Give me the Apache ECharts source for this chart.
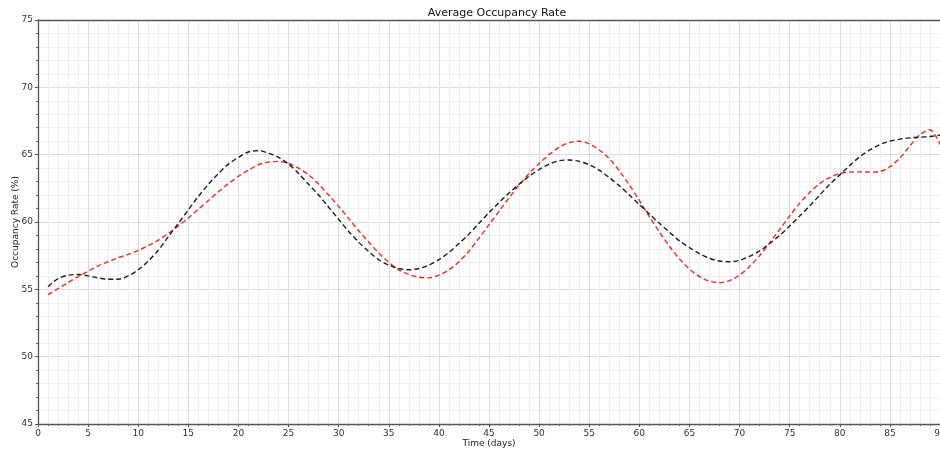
<!DOCTYPE html>
<html>
<head>
<meta charset="utf-8">
<title>Average Occupancy Rate</title>
<script src="https://cdn.jsdelivr.net/npm/echarts@6/dist/echarts.min.js"></script>
<style>
  html, body { margin: 0; padding: 0; background: #fff; }
  #chart { width: 940px; height: 450px; }
</style>
</head>
<body>
<div id="chart"></div>
<script>
// Day index for each sample
const days = [];
for (let d = 1; d <= 90; d++) days.push(d);

// Smoothed trend of occupancy (%)
const trendRate = [
  55.2, 55.8, 56.05, 56.1, 56.0, 55.85, 55.75, 55.75, 56.0, 56.45,
  57.1, 57.9, 58.9, 59.9, 60.9, 61.9, 62.8, 63.6, 64.3, 64.8,
  65.2, 65.3, 65.1, 64.8, 64.3, 63.6, 62.8, 62.0, 61.1, 60.2,
  59.3, 58.5, 57.8, 57.2, 56.8, 56.55, 56.45, 56.55, 56.8, 57.2,
  57.75, 58.4, 59.1, 59.9, 60.7, 61.45, 62.15, 62.8, 63.4, 63.9,
  64.3, 64.55, 64.6, 64.5, 64.25, 63.85, 63.3, 62.7, 62.0, 61.3,
  60.6, 59.9, 59.25, 58.6, 58.1, 57.65, 57.3, 57.1, 57.05, 57.15,
  57.45, 57.85, 58.4, 59.0, 59.7, 60.45, 61.2, 62.0, 62.8, 63.5,
  64.2, 64.85, 65.35, 65.75, 66.0, 66.15, 66.25, 66.3, 66.35, 66.45
];

// Observed occupancy (%)
const observedRate = [
  54.6, 55.05, 55.5, 55.95, 56.35, 56.75, 57.05, 57.35, 57.6, 57.9,
  58.25, 58.65, 59.15, 59.7, 60.3, 60.95, 61.6, 62.25, 62.85, 63.4,
  63.85, 64.25, 64.45, 64.5, 64.35, 64.0, 63.5, 62.8, 62.0, 61.15,
  60.25, 59.35, 58.5, 57.7, 57.0, 56.45, 56.1, 55.9, 55.85, 56.05,
  56.45, 57.05, 57.85, 58.8, 59.8, 60.8, 61.8, 62.75, 63.6, 64.35,
  65.0, 65.55, 65.9, 66.0, 65.8, 65.35, 64.7, 63.8, 62.75, 61.6,
  60.4, 59.25, 58.2, 57.25, 56.5, 55.95, 55.6, 55.5, 55.65, 56.05,
  56.7, 57.5, 58.45, 59.45, 60.45, 61.4, 62.2, 62.85, 63.3, 63.6,
  63.7, 63.72, 63.7, 63.75, 64.1, 64.75, 65.65, 66.5, 66.85, 65.75
];

const xTicks = { min: 0, max: 90, step: 5 };
const yTicks = { min: 45, max: 75, step: 5 };

const chart = echarts.init(document.getElementById('chart'), null, { renderer: 'canvas' });

const labelFont = { fontFamily: 'DejaVu Sans', fontSize: 9, color: '#333' };
const axisLine = { show: true, lineStyle: { color: '#555', width: 1.3 } };

chart.setOption({
  animation: false,
  backgroundColor: '#fff',
  title: {
    text: 'Average Occupancy Rate',
    left: 492, top: 3, textAlign: 'center',
    textStyle: { fontFamily: 'DejaVu Sans', fontSize: 11, fontWeight: 'normal', color: '#111' }
  },
  grid: { left: 38, right: 0, top: 20, bottom: 26, containLabel: false, outerBoundsMode: 'none' },
  xAxis: [{
    type: 'value', min: xTicks.min, max: xTicks.max, interval: xTicks.step,
    name: 'Time (days)', nameLocation: 'middle', nameGap: 15, nameMoveOverlap: false,
    nameTextStyle: { fontFamily: 'DejaVu Sans', fontSize: 9, color: '#222' },
    axisLine: axisLine,
    axisTick: { show: true, length: 3, lineStyle: { color: '#555' } },
    minorTick: { show: true, splitNumber: 5, length: 2, lineStyle: { color: '#666' } },
    axisLabel: Object.assign({ margin: 5, hideOverlap: false }, labelFont),
    splitLine: { show: true, lineStyle: { color: '#dcdcdc', width: 1 } },
    minorSplitLine: { show: true, lineStyle: { color: '#eeeeee', width: 1 } }
  }, {
    type: 'value', position: 'top', min: xTicks.min, max: xTicks.max,
    axisLine: axisLine, axisTick: { show: false }, axisLabel: { show: false },
    splitLine: { show: false }
  }],
  yAxis: {
    type: 'value', min: yTicks.min, max: yTicks.max, interval: yTicks.step,
    name: 'Occupancy Rate (%)', nameLocation: 'middle', nameGap: 18, nameRotate: 90,
    nameMoveOverlap: false,
    nameTextStyle: { fontFamily: 'DejaVu Sans', fontSize: 9, color: '#222' },
    axisLine: axisLine,
    axisTick: { show: true, length: 3, lineStyle: { color: '#555' } },
    minorTick: { show: true, splitNumber: 5, length: 2, lineStyle: { color: '#666' } },
    axisLabel: Object.assign({ margin: 5 }, labelFont),
    splitLine: { show: true, lineStyle: { color: '#dcdcdc', width: 1 } },
    minorSplitLine: { show: true, lineStyle: { color: '#eeeeee', width: 1 } }
  },
  series: [{
    name: 'Observed',
    type: 'line',
    data: days.map((d, i) => [d, observedRate[i]]),
    smooth: 0.3, showSymbol: false, clip: true,
    lineStyle: { color: '#ee2b24', width: 1.4, type: [5, 3] }
  }, {
    name: 'Trend',
    type: 'line',
    data: days.map((d, i) => [d, trendRate[i]]),
    smooth: 0.3, showSymbol: false, clip: true,
    lineStyle: { color: '#1c1c1c', width: 1.4, type: [5, 3] }
  }]
});
</script>
</body>
</html>
